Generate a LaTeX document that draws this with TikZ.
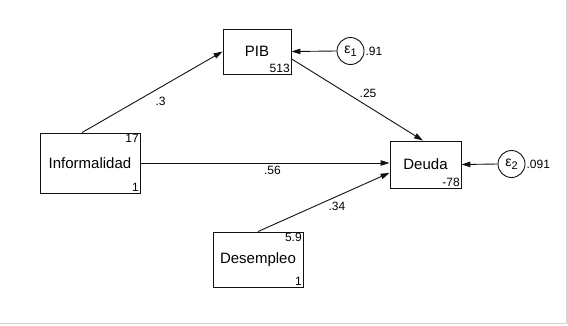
\documentclass[tikz,border=0pt]{standalone}
\usepackage{fontspec}
\setmainfont{Liberation Sans}
\usetikzlibrary{arrows.meta,positioning}
\definecolor{ink}{HTML}{111111}
\definecolor{frame}{HTML}{D4D4D4}
\tikzset{
  var/.style={rectangle, draw=ink, fill=white, line width=0.9pt, inner sep=0pt,
              font=\fontsize{15}{17}\selectfont},
  err/.style={circle, draw=ink, fill=white, line width=0.9pt, inner sep=0pt,
              minimum size=27pt, font=\fontsize{14}{16}\selectfont},
  num/.style={font=\fontsize{12}{14}\selectfont, inner sep=1.5pt},
  coef/.style={font=\fontsize{12}{14}\selectfont, inner sep=2pt},
  link/.style={-{Triangle[length=9pt,width=5.5pt]}, draw=ink, line width=0.9pt}
}
\newcommand{\errsub}[1]{\raisebox{-2.5pt}{\fontsize{11}{12}\selectfont #1}}
\begin{document}
\begin{tikzpicture}[x=1pt, y=-1pt]
 \useasboundingbox (0,0) rectangle (568,325);
 \draw[frame, line width=1.5pt] (567,0) -- (567,323.5) -- (0,323.5);
 % observed variables
 \node[var, minimum width=68pt, minimum height=45pt] (pib) at (257,51.5) {PIB};
 \node[var, minimum width=100pt, minimum height=60pt] (infor) at (90,163) {Informalidad};
 \node[var, minimum width=71pt, minimum height=47pt] (deuda) at (425.5,164.5) {Deuda};
 \node[var, minimum width=90pt, minimum height=55pt] (desem) at (258,259.5) {Desempleo};
 % corner values
 \node[num, anchor=south east] at (pib.south east) {513};
 \node[num, anchor=north east] at (infor.north east) {17};
 \node[num, anchor=south east] at (infor.south east) {1};
 \node[num, anchor=south east] at (deuda.south east) {-78};
 \node[num, anchor=north east] at (desem.north east) {5.9};
 \node[num, anchor=south east] at (desem.south east) {1};
 % error terms
 \node[err] (e1) at (350.5,51) {ε\errsub{1}};
 \node[err] (e2) at (511.5,164) {ε\errsub{2}};
 \node[coef, anchor=west, inner sep=1pt] at (e1.east) {.91};
 \node[coef, anchor=west, inner sep=1pt] at (e2.east) {.091};
 % paths
 \coordinate (infortop) at ([xshift=-8pt]infor.north);
 \draw[link] (infortop) -- node[coef, pos=0.52, below right=4pt and -2pt]{.3} (pib.west);
 \draw[link] (pib.-12) -- node[coef, pos=0.5, above right=0pt and 0pt]{.25} (deuda.96);
 \draw[link] (infor.east) -- node[coef, pos=0.53, below=1pt]{.56} (infor.east -| deuda.west);
 \draw[link] (desem.north) -- node[coef, pos=0.6, below=3pt]{.34} (deuda.193);
 \draw[link] (e1.west) -- (pib.east);
 \draw[link] (e2.west) -- (deuda.east);
\end{tikzpicture}
\end{document}
